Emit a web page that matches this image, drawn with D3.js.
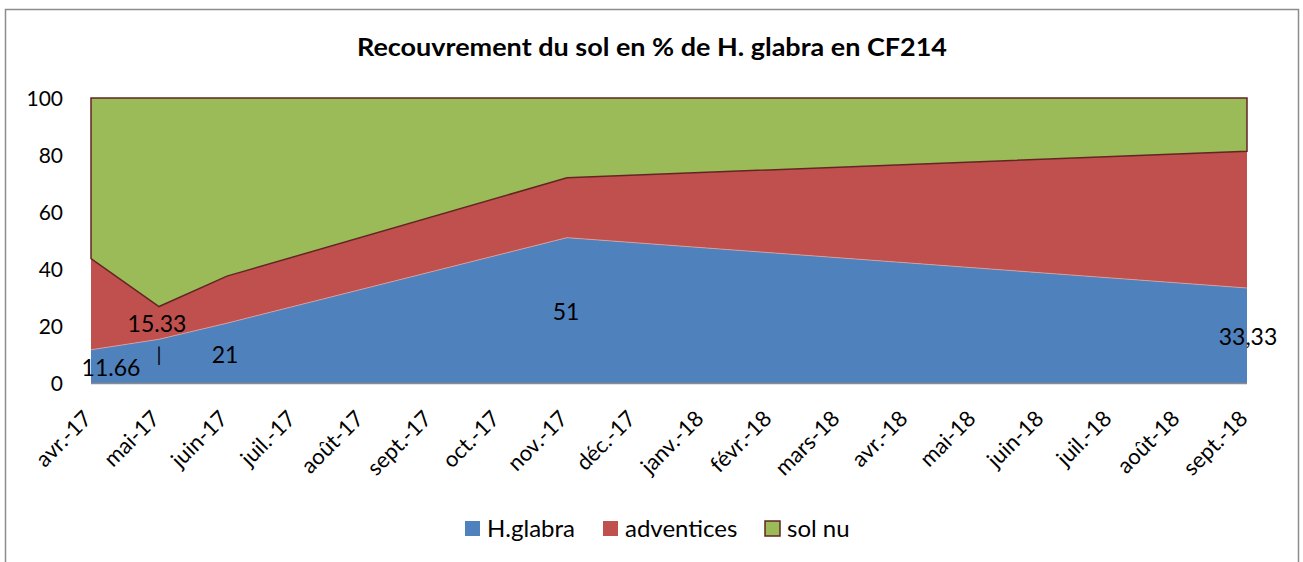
<!DOCTYPE html>
<html><head><meta charset="utf-8">
<script src="https://cdn.jsdelivr.net/npm/d3@7"></script>
<style>body{margin:0;background:#fff}svg{display:block}text{font-family:Lato,"Open Sans",sans-serif;fill:#000}</style>
</head><body><svg id="c" width="1303" height="562"></svg>
<script>
const months = ["avr.-17","mai-17","juin-17","juil.-17","août-17","sept.-17","oct.-17","nov.-17","déc.-17","janv.-18","févr.-18","mars-18","avr.-18","mai-18","juin-18","juil.-18","août-18","sept.-18"];
const sampleMonths = ["avr.-17","mai-17","juin-17","nov.-17","sept.-18"];
const hglabra = [11.66, 15.33, 21, 51, 33.33];
const adventices = [32, 11.5, 16.5, 21, 48];
const solNu = [56.34, 73.17, 62.5, 28, 18.67];
const pointLabels = ["11.66", "15.33", "21", "51", "33,33"];
const yTicks = [0, 20, 40, 60, 80, 100];
const seriesNames = ["H.glabra", "adventices", "sol nu"];
const colors = ["#4f81bd", "#c0504d", "#9bbb59"];

const svg = d3.select("#c");
svg.append("rect").attr("x",5.5).attr("y",9.5).attr("width",1293).attr("height",600)
  .attr("fill","#fff").attr("stroke","#8c8c8c").attr("stroke-width",1.5);

const x = d3.scalePoint().domain(months).range([91, 1247]);
const y = d3.scaleLinear().domain([0, 100]).range([383, 98]);

const rows = sampleMonths.map((m, i) => ({m, "H.glabra": hglabra[i], "adventices": adventices[i], "sol nu": solNu[i]}));
const stack = d3.stack().keys(seriesNames)(rows);
const area = d3.area().x(d => x(d.data.m)).y0(d => y(d[0])).y1(d => y(d[1]));

svg.append("g").selectAll("path").data(stack).join("path")
  .attr("d", area).attr("fill", (d, i) => colors[i])
  .attr("stroke", (d, i) => i === 2 ? "#632523" : "none")
  .attr("stroke-width", 1.5).attr("stroke-linejoin", "miter");

// light boundary between blue and red
svg.append("path").datum(stack[0])
  .attr("d", d3.line().x(d => x(d.data.m)).y(d => y(d[1])))
  .attr("fill","none").attr("stroke","#d9a6a5").attr("stroke-width",0.8);

// x axis baseline
svg.append("line").attr("x1", x(months[0])).attr("x2", x(months[months.length-1]))
  .attr("y1", y(0)+0.5).attr("y2", y(0)+0.5).attr("stroke","#8c8c8c").attr("stroke-width",1.5);

// y labels
svg.append("g").selectAll("text").data(yTicks).join("text")
  .attr("x", 63).attr("y", d => y(d)).attr("dy","0.36em").attr("text-anchor","end")
  .attr("font-size", 21).text(d => d);

// x labels
svg.append("g").selectAll("text").data(months).join("text")
  .attr("transform", d => `translate(${x(d)+2},${420}) rotate(-45)`)
  .attr("text-anchor","end").attr("font-size", 22).text(d => d);

// data labels
const labelOffsets = [[20, 18], [-2, -16], [-2, 32], [-1, 74], [1, 49]];
svg.append("g").selectAll("text").data(pointLabels).join("text")
  .attr("x", (d, i) => x(sampleMonths[i]) + labelOffsets[i][0])
  .attr("y", (d, i) => y(hglabra[i]) + labelOffsets[i][1])
  .attr("dy","0.36em").attr("text-anchor","middle").attr("font-size", 23).text(d => d);
svg.append("text").attr("x", x(sampleMonths[1])).attr("y", y(hglabra[1]) + 15)
  .attr("dy","0.36em").attr("text-anchor","middle").attr("font-size", 20).text("|");

// title
svg.append("text").attr("x", 357).attr("y", 56)
  .attr("font-size", 25).attr("font-weight","bold")
  .attr("textLength", 590).attr("lengthAdjust", "spacingAndGlyphs")
  .text("Recouvrement du sol en % de H. glabra en CF214");

// legend
const legendX = [465, 603, 765];
const lg = svg.append("g").selectAll("g").data(seriesNames).join("g")
  .attr("transform", (d, i) => `translate(${legendX[i]},521)`);
lg.append("rect").attr("width", 15).attr("height", 15).attr("fill", (d, i) => colors[i])
  .attr("stroke", (d, i) => i === 2 ? "#632523" : "none").attr("stroke-width", 1.5);
lg.append("text").attr("x", 22).attr("y", 7.5).attr("dy","0.36em").attr("font-size", 24).text(d => d);
</script></body></html>
